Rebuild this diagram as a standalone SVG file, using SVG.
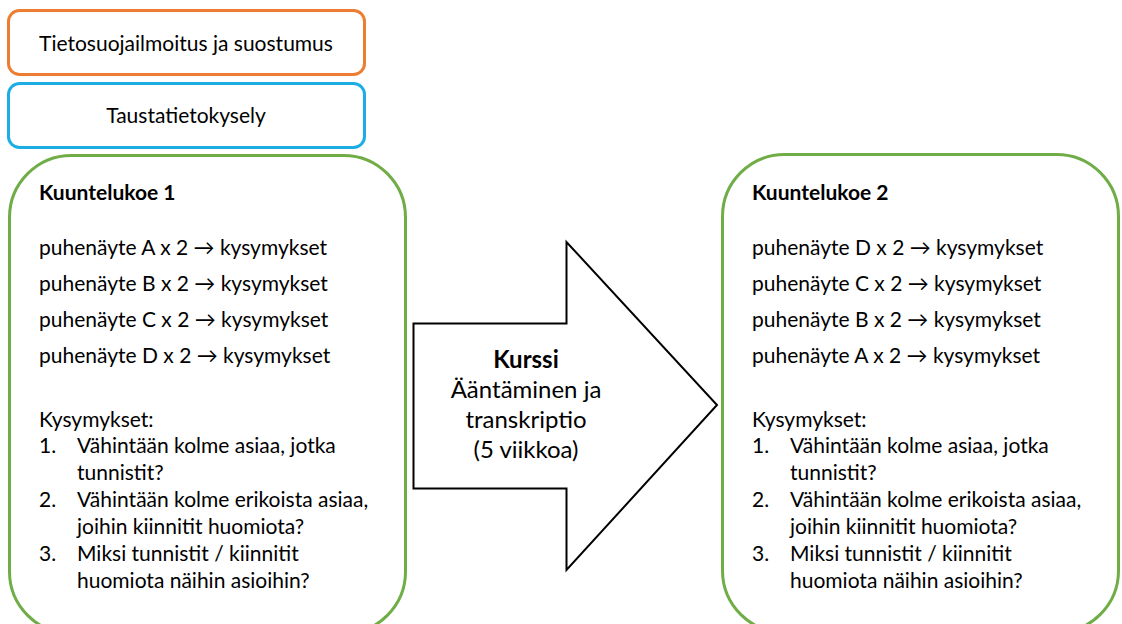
<svg xmlns="http://www.w3.org/2000/svg" width="1122" height="624" viewBox="0 0 1122 624">
<style>
text{font-family:Lato,"Open Sans","Liberation Sans",sans-serif;fill:#000;font-size:21px}
.b{font-weight:bold}
.c{text-anchor:middle}
text.a{font-size:24px}
.box{fill:#fff;stroke-width:3}
</style>
<rect width="1122" height="624" fill="#fff"/>
<g id="tietosuoja">
<rect class="box" x="8.5" y="10.5" width="356" height="64" rx="11" stroke="#ED7D31"/>
<text class="c" x="186" y="51">Tietosuojailmoitus ja suostumus</text>
</g>
<g id="taustatieto">
<rect class="box" x="8.5" y="83.5" width="356" height="64" rx="11" stroke="#1CADE4"/>
<text class="c" x="186" y="123">Taustatietokysely</text>
</g>
<g id="kuuntelukoe1">
<rect class="box" x="9.5" y="155.5" width="396" height="478" rx="62" stroke="#70AD47"/>
<text class="b" x="39" y="200">Kuuntelukoe 1</text>
<text x="39" y="255">puhenäyte A x 2 → kysymykset</text>
<text x="39" y="291">puhenäyte B x 2 → kysymykset</text>
<text x="39" y="327">puhenäyte C x 2 → kysymykset</text>
<text x="39" y="363">puhenäyte D x 2 → kysymykset</text>
<text x="39" y="427">Kysymykset:</text>
<text x="39" y="453">1.</text><text x="77" y="453">Vähintään kolme asiaa, jotka</text>
<text x="77" y="480">tunnistit?</text>
<text x="39" y="507">2.</text><text x="77" y="507">Vähintään kolme erikoista asiaa,</text>
<text x="77" y="534">joihin kiinnitit huomiota?</text>
<text x="39" y="561">3.</text><text x="77" y="561">Miksi tunnistit / kiinnitit</text>
<text x="77" y="588">huomiota näihin asioihin?</text>
</g>
<g id="kurssi">
<polygon points="413.5,323.5 566.5,323.5 566.5,242 717,405 566.5,570 566.5,488.5 413.5,488.5" fill="#fff" stroke="#000" stroke-width="2"/>
<text class="c a b" x="526" y="368">Kurssi</text>
<text class="c a" x="526" y="398">Ääntäminen ja</text>
<text class="c a" x="526" y="428">transkriptio</text>
<text class="c a" x="526" y="458">(5 viikkoa)</text>
</g>
<g id="kuuntelukoe2">
<rect class="box" x="722.5" y="154.5" width="396" height="478" rx="62" stroke="#70AD47"/>
<text class="b" x="752" y="200">Kuuntelukoe 2</text>
<text x="752" y="255">puhenäyte D x 2 → kysymykset</text>
<text x="752" y="291">puhenäyte C x 2 → kysymykset</text>
<text x="752" y="327">puhenäyte B x 2 → kysymykset</text>
<text x="752" y="363">puhenäyte A x 2 → kysymykset</text>
<text x="752" y="427">Kysymykset:</text>
<text x="752" y="453">1.</text><text x="790" y="453">Vähintään kolme asiaa, jotka</text>
<text x="790" y="480">tunnistit?</text>
<text x="752" y="507">2.</text><text x="790" y="507">Vähintään kolme erikoista asiaa,</text>
<text x="790" y="534">joihin kiinnitit huomiota?</text>
<text x="752" y="561">3.</text><text x="790" y="561">Miksi tunnistit / kiinnitit</text>
<text x="790" y="588">huomiota näihin asioihin?</text>
</g>
<g id="connectors"></g>
</svg>
